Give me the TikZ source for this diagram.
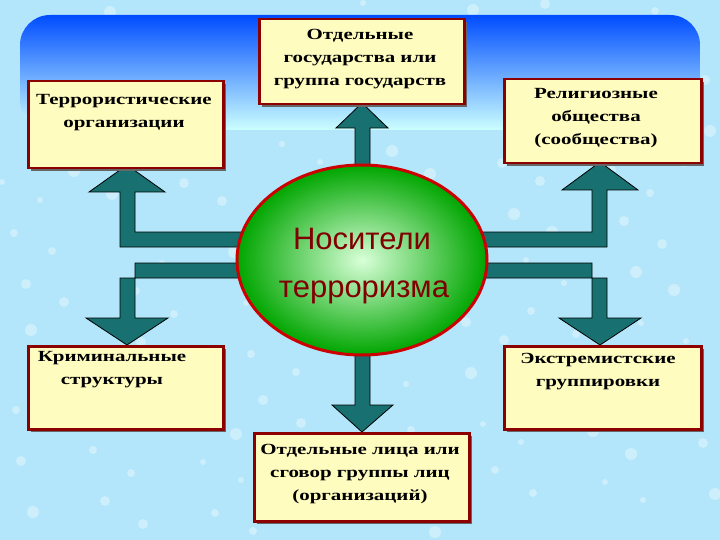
\documentclass[tikz,border=0pt]{standalone}
\usepackage{fontspec}
\setmainfont{Liberation Serif}
\newfontfamily\arialf{Liberation Sans}
\usetikzlibrary{shapes.geometric}
\begin{document}
\begin{tikzpicture}[x=1pt,y=-1pt,
  box/.style={draw=red!55!black,line width=2.5pt,fill=yellow!25,minimum width=#1,align=center},
  lbl/.style={font=\bfseries\fontsize{15.5}{23}\selectfont,align=center},
  arr/.style={fill=teal!75!black!90!white,draw=black,line width=0.8pt,line join=miter}]
\useasboundingbox (0,0) rectangle (720,540);
\fill[cyan!30!white] (0,0) rectangle (720,540);
\foreach \i in {1,...,140}{
  \pgfmathsetmacro{\px}{mod(\i*53,72)*10+mod(\i,7)}
  \pgfmathsetmacro{\py}{mod(\i*31,54)*10+mod(\i,5)}
  \pgfmathsetmacro{\pr}{3+mod(\i,4)}
  \fill[white,opacity=0.35] (\px,\py) circle[radius=\pr];
}
\shade[top color=blue!70!cyan,bottom color=cyan!20,rounded corners=30] (20,15) rectangle (700,130);
% arrows
\path[arr] (250,232)--(135,232)--(135,192)--(165,192)--(127,165)--(89,192)--(120,192)--(120,247)--(250,247)--cycle;
\path[arr] (250,263)--(135,263)--(135,318)--(168,318)--(127,345)--(86,318)--(120,318)--(120,278)--(250,278)--cycle;
\path[arr] (475,232)--(592,232)--(592,190)--(562,190)--(600,162)--(638,190)--(607,190)--(607,247)--(475,247)--cycle;
\path[arr] (475,263)--(592,263)--(592,318)--(559,318)--(600,345)--(641,318)--(607,318)--(607,278)--(475,278)--cycle;
\path[arr] (355,180)--(355,128)--(336,128)--(362,103)--(388,128)--(370,128)--(370,180)--cycle;
\path[arr] (355,340)--(355,405)--(332,405)--(362,432)--(393,405)--(370,405)--(370,340)--cycle;
% ellipse
\node[ellipse,minimum width=250,minimum height=190,draw=red!80!black,line width=3pt,inner color=green!15!white,outer color=green!65!black] (c) at (362,260) {};
\node[font=\arialf\fontsize{31}{34}\selectfont,text=red!50!black] (t1) at (362,239) {Носители};
\node[font=\arialf\fontsize{31}{34}\selectfont,text=red!50!black] (t2) at (364,292) {терроризма};
% boxes
\fill[black!60] (31,84) rectangle (226,171);
\node[box=195,minimum height=87,anchor=north west,inner sep=0] (b1) at (27,80) {};
\node[lbl,xscale=1.35] (l1) at (124,113) {Террористические\\организации};
\fill[black!60] (262,22) rectangle (467,107);
\node[box=205,minimum height=85,anchor=north west,inner sep=0] (b2) at (258,18) {};
\node[lbl,xscale=1.35] (l2) at (360,59) {Отдельные\\государства или\\группа государств};
\fill[black!60] (507,82) rectangle (704,166);
\node[box=197,minimum height=84,anchor=north west,inner sep=0] (b3) at (503,78) {};
\node[lbl,xscale=1.35] (l3) at (596,118) {Религиозные\\общества\\(сообщества)};
\fill[black!60] (31,349) rectangle (226,432);
\node[box=195,minimum height=83,anchor=north west,inner sep=0] (b4) at (27,345) {};
\node[lbl,xscale=1.35] (l4) at (112,370) {Криминальные\\структуры};
\fill[black!60] (507,349) rectangle (704,432);
\node[box=197,minimum height=83,anchor=north west,inner sep=0] (b5) at (503,345) {};
\node[lbl,xscale=1.35] (l5) at (598,372) {Экстремистские\\группировки};
\fill[black!60] (257,436) rectangle (472,524);
\node[box=215,minimum height=88,anchor=north west,inner sep=0] (b6) at (253,432) {};
\node[lbl,xscale=1.35] (l6) at (360,474) {Отдельные лица или\\сговор группы лиц\\(организаций)};
\end{tikzpicture}
\end{document}
